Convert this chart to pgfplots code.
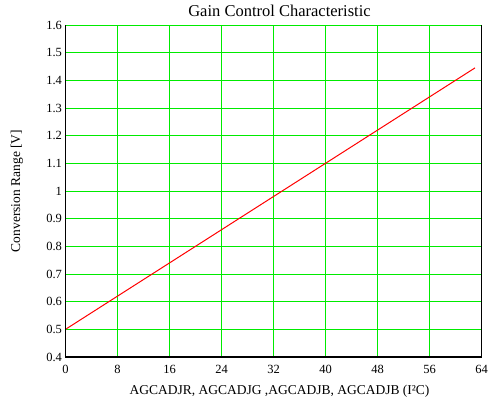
\documentclass[border=0pt]{standalone}
\usepackage{pgfplots}
\pgfplotsset{compat=1.18}
\usepackage{fontspec}
\setmainfont{Liberation Serif}
\definecolor{gridgreen}{RGB}{0,235,0}
\begin{document}
\begin{tikzpicture}
\begin{axis}[
  scale only axis,
  width=416pt, height=332pt,
  xmin=0, xmax=64, ymin=0.4, ymax=1.6,
  xtick={0,8,16,24,32,40,48,56,64},
  ytick={0.4,0.5,...,1.6},
  yticklabels={0.4,0.5,0.6,0.7,0.8,0.9,1,1.1,1.2,1.3,1.4,1.5,1.6},
  /pgf/number format/assume math mode=true,
  major tick length=0pt,
  tick label style={font=\fontsize{12.5}{14}\selectfont},
  xticklabel style={yshift=-5pt},
  xmajorgrids, ymajorgrids,
  x grid style={draw=gridgreen, line width=1.3pt},
  y grid style={draw=gridgreen, line width=1pt},
  axis line style={draw=none},
  title={Gain Control Characteristic},
  title style={font=\fontsize{16.5}{18}\selectfont, at={(0.5,1)}, anchor=base, yshift=3pt, xshift=6pt},
  xlabel={AGCADJR, AGCADJG ,AGCADJB, AGCADJB (I²C)},
  ylabel={Conversion Range [V]},
  label style={font=\fontsize{13.5}{15}\selectfont},
  xlabel style={at={(0.5,0)}, anchor=north, yshift=-25pt, xshift=6pt},
  ylabel style={at={(0,0.5)}, anchor=south, yshift=39pt},
  clip=false,
]
\addplot[draw=red, line width=1pt] coordinates {(0,0.5) (63,1.445)};
\draw[gridgreen, line width=1pt] (rel axis cs:0,1) -- (rel axis cs:1,1);
\draw[black, line width=1.2pt] (rel axis cs:0,1) -- (rel axis cs:0,0) -- (rel axis cs:1,0) -- (rel axis cs:1,1);
\end{axis}
\pgfresetboundingbox
\path[use as bounding box] (-65.5pt,-43pt) rectangle (428.5pt,357pt);
\end{tikzpicture}
\end{document}
